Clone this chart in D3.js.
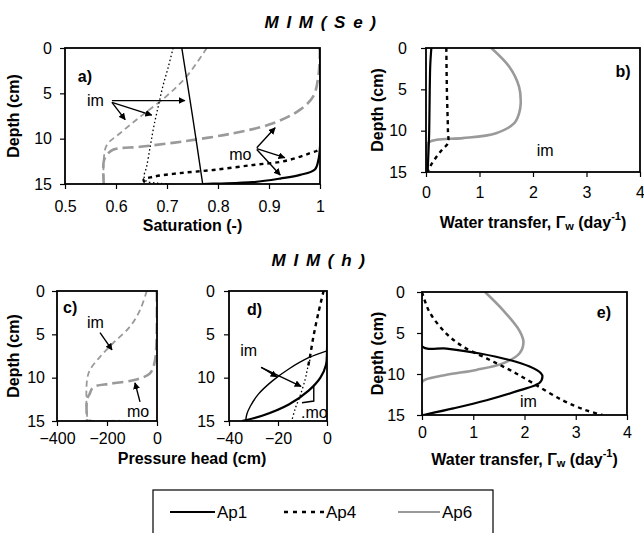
<!DOCTYPE html>
<html>
<head>
<meta charset="utf-8">
<script src="https://cdnjs.cloudflare.com/ajax/libs/d3/7.8.5/d3.min.js"></script>
<style>
  body { margin: 0; background: #fff; }
  text { font-family: "Liberation Sans", Arial, sans-serif; fill: #000; }
</style>
</head>
<body>
<div id="chart"></div>
<script>
// ---- DATA: [value, depth(cm)] pairs ----

// a) saturation, MIM(Se)
const a_Ap1_im = [[0.729, 0], [0.750, 7.5], [0.770, 15]];
const a_Ap1_mo = [[1, 0], [1, 10.9], [0.997, 12.3], [0.990, 13.4], [0.961, 14.0], [0.922, 14.4], [0.869, 14.8], [0.80, 14.95], [0.77, 15]];
const a_Ap4_im = [[0.712, 0], [0.703, 2], [0.692, 4.2], [0.683, 6.4], [0.674, 8.7], [0.667, 10.9], [0.660, 13.1], [0.655, 14.2], [0.660, 14.7], [0.680, 14.9], [0.706, 15]];
const a_Ap4_mo = [[1, 0], [1, 11], [0.98, 11.6], [0.928, 12.5], [0.869, 12.9], [0.791, 13.45], [0.725, 13.8], [0.673, 14.2], [0.654, 14.55], [0.66, 15]];
const a_Ap6_im = [[0.778, 0], [0.739, 3.1], [0.699, 5.3], [0.647, 7.6], [0.608, 9.4], [0.582, 10.7], [0.576, 12.3], [0.576, 15]];
const a_Ap6_mo = [[1, 0], [0.997, 3], [0.987, 5.3], [0.961, 6.8], [0.908, 8.3], [0.83, 9.4], [0.732, 10.3], [0.647, 10.9], [0.595, 11.2], [0.582, 11.8], [0.576, 12.5], [0.576, 15]];

// b) water transfer, MIM(Se)
const b_Ap1 = [[0.10, 0], [0.08, 2], [0.07, 5], [0.06, 10], [0.05, 12], [0.03, 15]];
const b_Ap4 = [[0.38, 0], [0.39, 5], [0.41, 10], [0.41, 11.5], [0.30, 12.3], [0.18, 13.3], [0.08, 14.3], [0.03, 15]];
const b_Ap6 = [[1.22, 0], [1.56, 2.3], [1.74, 4.7], [1.77, 6.7], [1.74, 7.9], [1.65, 9.1], [1.31, 10.3], [0.69, 10.9], [0.20, 11.1], [0.04, 11.5], [0.03, 15]];

// c) pressure head (cm), MIM(h)
const c_Ap6_im = [[-41, 0], [-68, 2.2], [-108, 4.1], [-175, 6.0], [-228, 7.6], [-268, 9.1], [-280, 10.3], [-280, 14.2], [-276, 14.85], [-150, 14.92]];
const c_Ap6_mo = [[-1, 0], [-8, 8], [-28, 9.5], [-95, 10.3], [-188, 10.7], [-255, 11.1], [-270, 11.9], [-280, 12.5], [-280, 15]];

// d) pressure head (cm), zoomed
const d_Ap1_im = [[0, 6.9], [-7.5, 7.7], [-15.6, 9.0], [-22.4, 10.4], [-28, 11.9], [-31.3, 13.3], [-32.7, 14.2], [-33.2, 15]];
const d_Ap1_mo = [[0, 0], [0, 6.9], [-0.4, 8.5], [-2.7, 10.0], [-7.5, 11.5], [-15.6, 13.1], [-26.5, 14.4], [-34.7, 15]];
const d_Ap4_mo = [[-1.4, 0], [-3.5, 2.5], [-5.5, 5.2], [-6.9, 7.5], [-7.8, 8.85]];
const d_Ap4_im = [[-6.5, 7.5], [-8, 9], [-8.9, 10.2], [-11, 12.1], [-13, 13.6], [-14.4, 15]];

// e) water transfer, MIM(h)
const e_Ap1 = [[0, 0], [0, 6.6], [0.48, 6.9], [1.13, 7.5], [1.71, 8.3], [2.10, 9.1], [2.32, 9.9], [2.35, 10.3], [2.29, 11.1], [1.90, 12.0], [1.26, 13.2], [0.61, 14.2], [0.03, 15]];
const e_Ap4 = [[0, 0], [0.03, 0.6], [0.16, 2.6], [0.48, 5.1], [0.81, 6.7], [1.26, 8.1], [1.71, 9.5], [2.16, 11.1], [2.74, 13.2], [3.19, 14.4], [3.52, 15]];
const e_Ap6 = [[1.23, 0], [1.58, 2.2], [1.90, 4.7], [1.98, 6.1], [1.90, 7.5], [1.58, 8.7], [1.06, 9.5], [0.48, 10.1], [0.06, 10.7], [0, 11], [0, 15]];

// tick labels
const depthTicks = [0, 5, 10, 15];
const satTicks = [0.5, 0.6, 0.7, 0.8, 0.9, 1];
const transferTicks = [0, 1, 2, 3, 4];
const headTicksC = [-400, -200, 0];
const headTicksD = [-40, -20, 0];
const legendNames = ["Ap1", "Ap4", "Ap6"];

// ---- STYLES ----
const GRAY = "#9a9a9a";
const STYLES = {
  solid:     { stroke: "#000", width: 2.2, dash: null },
  solidThin: { stroke: "#000", width: 1.4, dash: null },
  dashBlack: { stroke: "#000", width: 2.4, dash: "4,4" },
  dotted:    { stroke: "#000", width: 1.3, dash: "1.5,2.5" },
  grayLong:  { stroke: GRAY, width: 2.6, dash: "11,5" },
  grayDash:  { stroke: GRAY, width: 1.8, dash: "6,4" },
  graySolid: { stroke: GRAY, width: 2.6, dash: null }
};

const svg = d3.select("#chart").append("svg")
  .attr("width", 644)
  .attr("height", 533)
  .style("background", "#fff");

svg.append("defs").append("marker")
  .attr("id", "arrow")
  .attr("viewBox", "0 0 10 10")
  .attr("refX", 9).attr("refY", 5)
  .attr("markerWidth", 7).attr("markerHeight", 7)
  .attr("markerUnits", "userSpaceOnUse")
  .attr("orient", "auto")
  .append("path")
  .attr("d", "M0,0 L10,5 L0,10 z")
  .attr("fill", "#000");

const fmtSat = d => d === 1 ? "1" : d.toFixed(1);

const PANELS = [
  { name: "a)", x: [65, 320], y: [48, 184], dom: [0.5, 1], ticks: satTicks, fmt: fmtSat,
    xPad: 12, yPad: 8, depthLabel: 13,
    series: [
      { d: a_Ap6_im, s: "grayDash" }, { d: a_Ap6_mo, s: "grayLong" },
      { d: a_Ap4_im, s: "dotted" }, { d: a_Ap4_mo, s: "dashBlack" },
      { d: a_Ap1_im, s: "solidThin" }, { d: a_Ap1_mo, s: "solid" }
    ],
    label: [0.525, 3.75],
    notes: [
      { t: "im", at: [0.543, 6.4], arrows: [[[0.592, 5.8], [0.735, 5.8]], [[0.592, 6.0], [0.618, 7.9]], [[0.592, 6.0], [0.670, 7.4]]] },
      { t: "mo", at: [0.822, 12.4], arrows: [[[0.876, 11.0], [0.912, 8.8]], [[0.876, 11.1], [0.931, 12.1]], [[0.876, 11.2], [0.922, 14.0]]] }
    ] },
  { name: "b)", x: [426, 640], y: [48, 172], dom: [0, 4], ticks: transferTicks, fmt: d3.format("d"),
    xPad: 10, yPad: 14, depthLabel: 377,
    series: [
      { d: b_Ap6, s: "graySolid" }, { d: b_Ap4, s: "dashBlack" }, { d: b_Ap1, s: "solid" }
    ],
    label: [3.54, 3.47],
    notes: [{ t: "im", at: [2.07, 13.1], arrows: [] }],
    xTitle: 222 },
  { name: "c)", x: [57, 157], y: [291, 421], dom: [-400, 0], ticks: headTicksC, fmt: d3.format("d"),
    xPad: 7, yPad: 7, depthLabel: 13,
    series: [
      { d: c_Ap6_im, s: "grayDash" }, { d: c_Ap6_mo, s: "grayLong" }
    ],
    label: [-376, 2.5],
    notes: [
      { t: "im", at: [-280, 4.3], arrows: [[[-228, 4.8], [-180, 6.8]]] },
      { t: "mo", at: [-120, 14.5], arrows: [[[-68, 12.8], [-88, 10.6]]] }
    ] },
  { name: "d)", x: [229, 327], y: [291, 421], dom: [-40, 0], ticks: headTicksD, fmt: d3.format("d"),
    xPad: 7, yPad: 9, depthLabel: null,
    series: [
      { d: d_Ap4_mo, s: "dashBlack" }, { d: d_Ap4_im, s: "dotted" },
      { d: d_Ap1_im, s: "solidThin" }, { d: d_Ap1_mo, s: "solid" }
    ],
    label: [-32.7, 2.8],
    notes: [
      { t: "im", at: [-35.4, 7.5], arrows: [[[-26.9, 8.8], [-20.4, 9.9]], [[-26.9, 8.8], [-10.6, 11.0]]] },
      { t: ".mo", at: [-10.6, 14.6], arrows: [], bracket: [[-10.2, 12.9], [-5.4, 12.7], [-5.4, 11.0]] }
    ] },
  { name: "e)", x: [422, 627], y: [292, 415], dom: [0, 4], ticks: transferTicks, fmt: d3.format("d"),
    xPad: 7, yPad: 12, depthLabel: 377,
    series: [
      { d: e_Ap6, s: "graySolid" }, { d: e_Ap4, s: "dashBlack" }, { d: e_Ap1, s: "solid" }
    ],
    label: [3.41, 3.2],
    notes: [{ t: "im", at: [1.91, 14.0], arrows: [] }],
    xTitle: 459 }
];

function drawPanel(p) {
  const x = d3.scaleLinear().domain(p.dom).range(p.x);
  const y = d3.scaleLinear().domain([0, 15]).range(p.y);
  const g = svg.append("g");

  const clipId = "clip-" + p.name[0];
  svg.select("defs").append("clipPath").attr("id", clipId)
    .append("rect")
    .attr("x", p.x[0]).attr("y", p.y[0])
    .attr("width", p.x[1] - p.x[0]).attr("height", p.y[1] - p.y[0]);

  const line = d3.line()
    .x(d => x(d[0]))
    .y(d => y(d[1]))
    .curve(d3.curveCatmullRom.alpha(0.5));

  const lines = g.append("g").attr("clip-path", "url(#" + clipId + ")");
  p.series.forEach(s => {
    const st = STYLES[s.s];
    lines.append("path")
      .attr("d", line(s.d))
      .attr("fill", "none")
      .attr("stroke", st.stroke)
      .attr("stroke-width", st.width)
      .attr("stroke-dasharray", st.dash)
      .attr("stroke-linejoin", "round");
  });

  // frame
  g.append("rect")
    .attr("x", p.x[0]).attr("y", p.y[0])
    .attr("width", p.x[1] - p.x[0]).attr("height", p.y[1] - p.y[0])
    .attr("fill", "none").attr("stroke", "#000").attr("stroke-width", 1.8);

  // axes
  const xAxis = g.append("g")
    .attr("transform", `translate(0,${p.y[1]})`)
    .call(d3.axisBottom(x).tickValues(p.ticks).tickFormat(p.fmt).tickSize(5).tickSizeOuter(0).tickPadding(p.xPad));
  const yAxis = g.append("g")
    .attr("transform", `translate(${p.x[0]},0)`)
    .call(d3.axisLeft(y).tickValues(depthTicks).tickFormat(d3.format("d")).tickSize(5).tickSizeOuter(0).tickPadding(p.yPad));
  [xAxis, yAxis].forEach(ax => {
    ax.select(".domain").remove();
    ax.selectAll(".tick line").attr("stroke", "#000").attr("stroke-width", 1.2);
    ax.selectAll(".tick text")
      .style("font-family", '"Liberation Sans", Arial, sans-serif')
      .style("font-size", "16px")
      .attr("fill", "#000");
  });

  if (p.depthLabel !== null) {
    g.append("text")
      .attr("transform", `translate(${p.depthLabel},${(p.y[0] + p.y[1]) / 2}) rotate(-90)`)
      .attr("text-anchor", "middle")
      .attr("dominant-baseline", "central")
      .style("font-size", "16px").style("font-weight", "bold")
      .text("Depth (cm)");
  }

  // panel letter
  g.append("text")
    .attr("x", x(p.label[0])).attr("y", y(p.label[1]))
    .style("font-size", "16px").style("font-weight", "bold")
    .text(p.name);

  p.notes.forEach(n => {
    g.append("text")
      .attr("x", x(n.at[0])).attr("y", y(n.at[1]))
      .style("font-size", "16px")
      .text(n.t);
    n.arrows.forEach(a => {
      g.append("line")
        .attr("x1", x(a[0][0])).attr("y1", y(a[0][1]))
        .attr("x2", x(a[1][0])).attr("y2", y(a[1][1]))
        .attr("stroke", "#000").attr("stroke-width", 1.4)
        .attr("marker-end", "url(#arrow)");
    });
    if (n.bracket) {
      g.append("path")
        .attr("d", d3.line().x(d => x(d[0])).y(d => y(d[1]))(n.bracket))
        .attr("fill", "none").attr("stroke", "#000").attr("stroke-width", 1.4);
    }
  });

  if (p.xTitle) waterTitle((p.x[0] + p.x[1]) / 2, p.xTitle);
}

function waterTitle(cx, cy) {
  const t = svg.append("text")
    .attr("x", cx).attr("y", cy)
    .attr("text-anchor", "middle")
    .attr("dominant-baseline", "central")
    .style("font-size", "16px").style("font-weight", "bold");
  t.append("tspan").text("Water transfer, Γ");
  t.append("tspan").attr("dy", 4).style("font-size", "11px").text("w");
  t.append("tspan").attr("dy", -4).text(" (day");
  t.append("tspan").attr("dy", -6).style("font-size", "11px").text("-1");
  t.append("tspan").attr("dy", 6).text(")");
}

PANELS.forEach(drawPanel);

// axis titles
svg.append("text")
  .attr("x", 192.5).attr("y", 225)
  .attr("text-anchor", "middle").attr("dominant-baseline", "central")
  .style("font-size", "16px").style("font-weight", "bold")
  .text("Saturation (-)");

svg.append("text")
  .attr("x", 192).attr("y", 458)
  .attr("text-anchor", "middle").attr("dominant-baseline", "central")
  .style("font-size", "16px").style("font-weight", "bold")
  .text("Pressure head (cm)");

// section titles
function sectionTitle(cx, cy, label) {
  svg.append("text")
    .attr("x", cx).attr("y", cy)
    .attr("text-anchor", "middle").attr("dominant-baseline", "central")
    .style("font-size", "17px").style("font-weight", "bold").style("font-style", "italic")
    .style("letter-spacing", "1.5px")
    .text(label);
}
sectionTitle(321, 22, "M I M ( S e )");
sectionTitle(319, 260, "M I M ( h )");

// legend
const legend = svg.append("g");
legend.append("rect")
  .attr("x", 153).attr("y", 490)
  .attr("width", 340).attr("height", 60)
  .attr("fill", "#fff").attr("stroke", "#000").attr("stroke-width", 1.2);

const legendStyles = [STYLES.solid, { stroke: "#000", width: 2.4, dash: "4,5" }, { stroke: GRAY, width: 2, dash: null }];
const legendLen = [45, 40, 42];
const legendX = d3.scalePoint().domain(legendNames).range([170, 398]);
legendNames.forEach((nm, i) => {
  const st = legendStyles[i];
  const x0 = legendX(nm);
  legend.append("line")
    .attr("x1", x0).attr("x2", x0 + legendLen[i])
    .attr("y1", 512).attr("y2", 512)
    .attr("stroke", st.stroke).attr("stroke-width", st.width)
    .attr("stroke-dasharray", st.dash);
  legend.append("text")
    .attr("x", x0 + legendLen[i] + 2).attr("y", 512)
    .attr("dominant-baseline", "central")
    .style("font-size", "17px")
    .text(nm);
});
</script>
</body>
</html>
